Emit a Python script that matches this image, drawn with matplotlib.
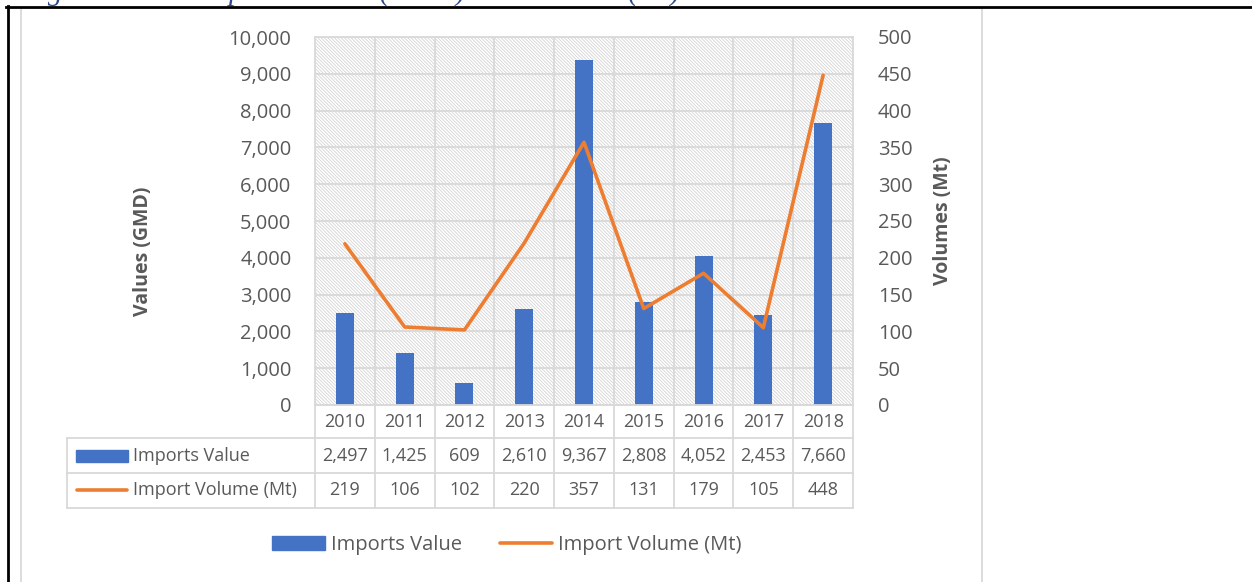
import matplotlib.pyplot as plt
import matplotlib.transforms as mtransforms
from matplotlib.patches import Rectangle
from matplotlib.lines import Line2D

years = ["2010", "2011", "2012", "2013", "2014", "2015", "2016", "2017", "2018"]
imports_value = [2497, 1425, 609, 2610, 9367, 2808, 4052, 2453, 7660]
import_volume = [219, 106, 102, 220, 357, 131, 179, 105, 448]
value_ticks = [0, 1000, 2000, 3000, 4000, 5000, 6000, 7000, 8000, 9000, 10000]
volume_ticks = [0, 50, 100, 150, 200, 250, 300, 350, 400, 450, 500]

BLUE = "#4472C4"
ORANGE = "#ED7D31"
TEXT = "#595959"
GRID = "#D9D9D9"

plt.rcParams["font.family"] = ["Open Sans", "DejaVu Sans"]
plt.rcParams["hatch.color"] = "#D4D4D4"
plt.rcParams["hatch.linewidth"] = 0.6

W, H = 1252, 582
fig = plt.figure(figsize=(W / 100, H / 100), dpi=100)

# overlay in pixel coords for frame, table and caption
over = fig.add_axes([0, 0, 1, 1])
over.set_xlim(0, W)
over.set_ylim(H, 0)
over.axis("off")

# plot area
left, right, top, bottom = 315, 853, 37, 405
ax = fig.add_axes([left / W, 1 - bottom / H, (right - left) / W, (bottom - top) / H])
x = list(range(len(years)))
ax.set_xlim(-0.5, len(years) - 0.5)
ax.set_ylim(0, 10000)
ax.patch.set_facecolor("white")
ax.patch.set_hatch("\\" * 10)
ax.patch.set_edgecolor("#D4D4D4")
ax.set_axisbelow(True)
ax.bar(x, imports_value, width=0.3, color=BLUE, zorder=2, label="Imports Value")
ax.set_yticks(value_ticks)
ax.set_yticklabels([f"{v:,}" for v in value_ticks])
ax.set_xticks([i + 0.5 for i in x[:-1]], minor=True)
ax.set_xticks([])
ax.grid(axis="y", color=GRID, lw=1.3)
ax.grid(axis="x", which="minor", color=GRID, lw=1.3)
ax.tick_params(axis="y", length=0, pad=17, labelsize=14.5, labelcolor=TEXT)
ax.tick_params(axis="x", which="both", length=0)
for s in ax.spines.values():
    s.set_color(GRID)
    s.set_linewidth(1.3)
ax.set_ylabel("Values (GMD)", fontsize=14, fontweight="bold", color=TEXT, labelpad=0)
ax.yaxis.set_label_coords((153 - left) / (right - left), (bottom - 251) / (bottom - top))

ax2 = ax.twinx()
ax2.plot(x, import_volume, color=ORANGE, lw=2.6, solid_capstyle="round", label="Import Volume (Mt)")
ax2.set_ylim(0, 500)
ax2.set_yticks(volume_ticks)
ax2.tick_params(axis="y", length=0, pad=18, labelsize=14.5, labelcolor=TEXT)
for s in ax2.spines.values():
    s.set_visible(False)
ax2.set_ylabel("Volumes (Mt)", fontsize=14, fontweight="bold", color=TEXT)
ax2.yaxis.set_label_coords((933 - left) / (right - left), (bottom - 221) / (bottom - top))

# data table under the plot
tr = mtransforms.blended_transform_factory(ax.transData, over.transData)
rows = [405, 438, 473, 508]
tab_left = 67
for i in x:
    over.text(i, 422, years[i], transform=tr, ha="center", va="center", fontsize=13, color=TEXT)
    over.text(i, 456, f"{imports_value[i]:,}", transform=tr, ha="center", va="center", fontsize=13, color=TEXT)
    over.text(i, 490, str(import_volume[i]), transform=tr, ha="center", va="center", fontsize=13, color=TEXT)
for edge in [i - 0.5 for i in x] + [len(years) - 0.5]:
    over.plot([edge, edge], [rows[0], rows[3]], transform=tr, color=GRID, lw=1.3)
over.plot([tab_left, tab_left], [rows[1], rows[3]], color=GRID, lw=1.3)
over.plot([left, right], [rows[0], rows[0]], color=GRID, lw=1.3)
for yy in rows[1:]:
    over.plot([tab_left, right], [yy, yy], color=GRID, lw=1.3)
over.add_patch(Rectangle((76, 450), 52, 12, color=BLUE))
over.text(133, 456, "Imports Value", ha="left", va="center", fontsize=13, color=TEXT)
over.plot([77, 127], [490, 490], color=ORANGE, lw=2.6, solid_capstyle="round")
over.text(133, 490, "Import Volume (Mt)", ha="left", va="center", fontsize=13, color=TEXT)

# chart frame and page lines
over.add_patch(Rectangle((21, 8), 961, 600, fill=False, edgecolor=GRID, lw=1.3))
over.add_line(Line2D([6, W], [7, 7], color="black", lw=2))
over.add_line(Line2D([7.5, 7.5], [6, H], color="black", lw=2))
# caption sits mostly above the crop, as in the source screenshot
over.text(22, 0, "Figure 4: Fish Imports Values (GMD) and Volumes (Mt)", ha="left", va="baseline",
          fontsize=21, style="italic", family="Liberation Serif", color="#2F4A8A")

handles = [Rectangle((0, 0), 1, 1, color=BLUE), Line2D([], [], color=ORANGE, lw=2.6, solid_capstyle="round")]
fig.legend(handles, ["Imports Value", "Import Volume (Mt)"], loc="center", ncol=2,
           bbox_to_anchor=(507 / W, 1 - 545 / H), frameon=False, fontsize=14.5,
           handlelength=2.6, handletextpad=0.3, columnspacing=1.9, labelcolor=TEXT)

fig.savefig("out.png", dpi=100)
